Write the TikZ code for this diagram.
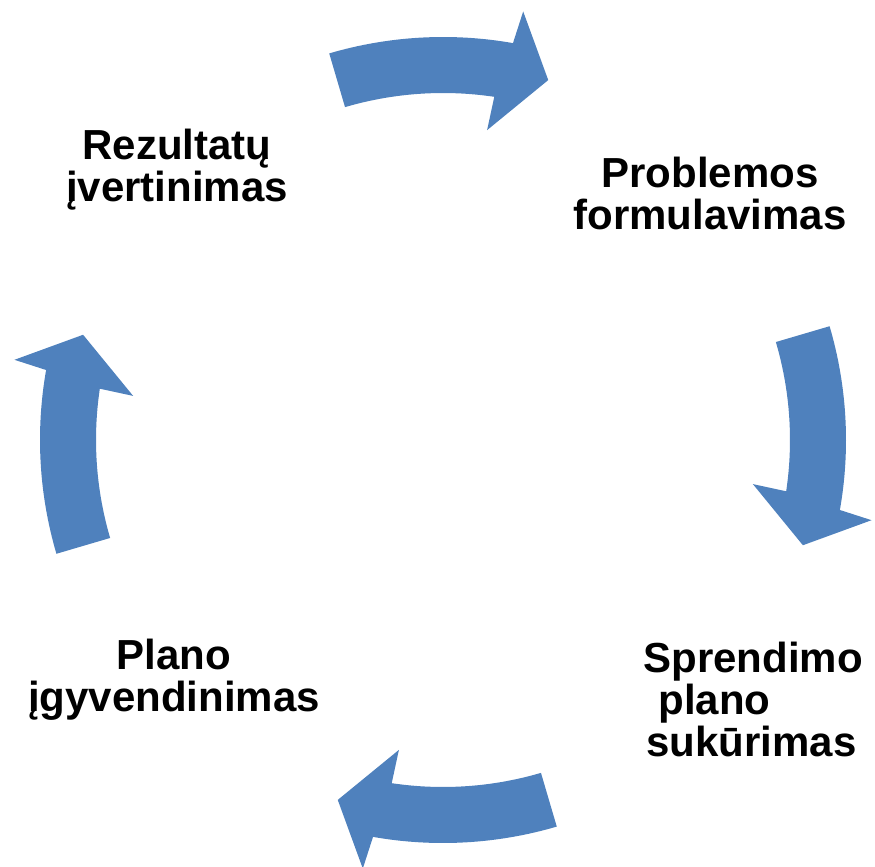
\documentclass[tikz,border=0pt]{standalone}
\usepackage{fontspec}
\setmainfont{Liberation Sans}
\definecolor{arrowblue}{HTML}{4F81BD}
\tikzset{
  steplabel/.style={font=\bfseries\fontsize{23.9pt}{23.9pt}\selectfont, inner sep=0pt},
  cyclearrow/.style={fill=arrowblue}
}
\begin{document}
\begin{tikzpicture}
\useasboundingbox (-8.86,-8.52) rectangle (8.64,8.8);
\coordinate (centre) at (0,0);

\foreach \turn in {0,90,180,270}
  \fill[cyclearrow, rotate around={-\turn:(centre)}]
    (106.4:8.06) arc[start angle=106.4, end angle=80, radius=8.06]
    -- (79.4:8.72) -- (73.7:7.5) -- (81.9:6.26) -- (81.5:6.94)
    arc[start angle=81.5, end angle=106.4, radius=6.94] -- cycle;

\node[steplabel, anchor=north, align=center] (problem) at (5.34,5.67) {Problemos\\formulavimas};
\node[steplabel, anchor=north west, align=left] (plan) at (4.0,-4.03) {Sprendimo\\\hspace{0.3cm}plano\\\hspace{0.06cm}sukūrimas};
\node[steplabel, anchor=north, align=center] (realise) at (-5.38,-3.97) {Plano\\įgyvendinimas};
\node[steplabel, anchor=north, align=center] (review) at (-5.32,6.23) {Rezultatų\\įvertinimas};
\end{tikzpicture}
\end{document}
